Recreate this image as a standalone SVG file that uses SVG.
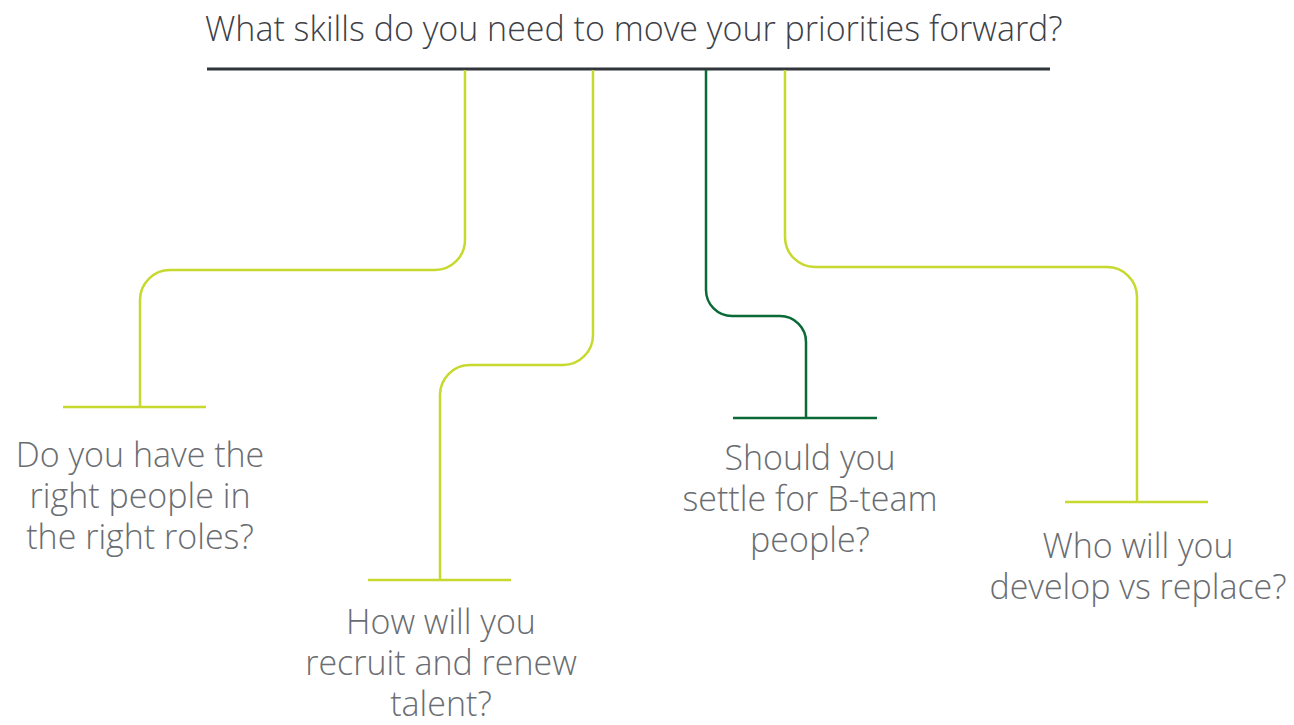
<svg xmlns="http://www.w3.org/2000/svg" width="1294" height="725" viewBox="0 0 1294 725">
<style>
.lbl{font-family:"Open Sans","Liberation Sans",sans-serif;font-weight:300;font-size:34px;fill:#6a6d71;text-anchor:middle}
.title{font-family:"Open Sans","Liberation Sans",sans-serif;font-weight:300;font-size:34px;fill:#3e4147}
.lime{fill:none;stroke:#c7d92e;stroke-width:2.5}
.dark{fill:none;stroke:#0a6a36;stroke-width:2.5}
</style>
<rect width="1294" height="725" fill="#ffffff"/>
<g id="title">
<text class="title" x="205" y="41">What skills do you need to move your priorities forward?</text>
<line x1="207" y1="69" x2="1050" y2="69" stroke="#2f353b" stroke-width="3"/>
</g>
<g id="connectors">
<path class="lime" d="M465,70 V240 A30,30 0 0 1 435,270 H170 A30,30 0 0 0 140,300 V407"/>
<path class="lime" d="M593,70 V335 A30,30 0 0 1 563,365 H470 A30,30 0 0 0 440,395 V580"/>
<path class="dark" d="M706,70 V290 A26,26 0 0 0 732,316 H780 A26,26 0 0 1 806,342 V418"/>
<path class="lime" d="M785,70 V237 A30,30 0 0 0 815,267 H1107 A30,30 0 0 1 1137,297 V502"/>
</g>
<g id="node1">
<line class="lime" x1="63" y1="407" x2="206" y2="407"/>
<text class="lbl" x="140" y="467">Do you have the<tspan x="140" dy="41">right people in</tspan><tspan x="140" dy="41">the right roles?</tspan></text>
</g>
<g id="node2">
<line class="lime" x1="368" y1="580" x2="511" y2="580"/>
<text class="lbl" x="441" y="634">How will you<tspan x="441" dy="41">recruit and renew</tspan><tspan x="441" dy="41">talent?</tspan></text>
</g>
<g id="node3">
<line class="dark" x1="733" y1="418" x2="877" y2="418"/>
<text class="lbl" x="810" y="470">Should you<tspan x="810" dy="41">settle for B-team</tspan><tspan x="810" dy="41">people?</tspan></text>
</g>
<g id="node4">
<line class="lime" x1="1065" y1="502" x2="1208" y2="502"/>
<text class="lbl" x="1138" y="558">Who will you<tspan x="1138" dy="41">develop vs replace?</tspan></text>
</g>
</svg>
